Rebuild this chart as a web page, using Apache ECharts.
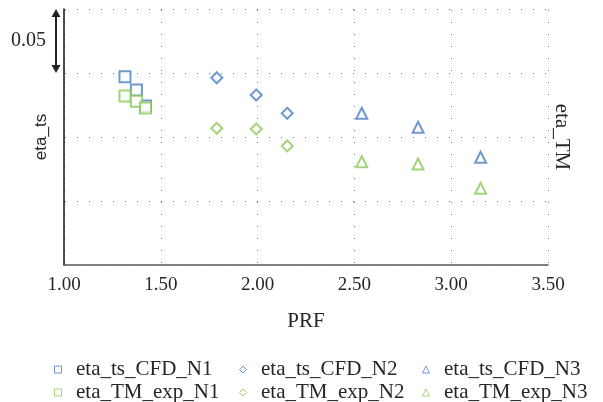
<!DOCTYPE html>
<html><head><meta charset="utf-8">
<script src="https://cdn.jsdelivr.net/npm/echarts@6/dist/echarts.min.js"></script>
<style>html,body{margin:0;padding:0;background:#fff}#c{width:603px;height:402px}</style>
</head><body><div id="c"></div>
<script>
// PRF (x) positions per family
const prfN1 = [1.315, 1.374, 1.421];
const prfN2 = [1.789, 1.993, 2.153];
const prfN3 = [2.538, 2.829, 3.152];
// efficiencies (relative scale, 0.05 per grid step)
const etaTsCfdN1 = [0.1470, 0.1367, 0.1242];
const etaTsCfdN2 = [0.1463, 0.1328, 0.1185];
const etaTsCfdN3 = [0.1185, 0.1076, 0.0841];
const etaTmExpN1 = [0.1320, 0.1280, 0.1227];
const etaTmExpN2 = [0.1068, 0.1063, 0.0930];
const etaTmExpN3 = [0.0807, 0.0789, 0.0599];
const xTicks = [1.0, 1.5, 2.0, 2.5, 3.0, 3.5];
const scaleStep = 0.05;
const scaleLabel = '0.05';

const BLUE = '#4a7ec4', GREEN = '#8cc95a';
const SERIF = '"Liberation Serif", "Times New Roman", serif';
const pts = (xs, ys) => xs.map((x, i) => [x, ys[i]]);
const mk = (name, xs, ys, sym, col) => ({
  name, type: 'scatter', data: pts(xs, ys), symbol: sym, symbolSize: 11,
  itemStyle: { color: col, borderWidth: 1.2 }, emphasis: { disabled: true }
});
const series = [
  mk('eta_ts_CFD_N1', prfN1, etaTsCfdN1, 'emptyRect', BLUE),
  mk('eta_ts_CFD_N2', prfN2, etaTsCfdN2, 'emptyDiamond', BLUE),
  mk('eta_ts_CFD_N3', prfN3, etaTsCfdN3, 'emptyTriangle', BLUE),
  mk('eta_TM_exp_N1', prfN1, etaTmExpN1, 'emptyRect', GREEN),
  mk('eta_TM_exp_N2', prfN2, etaTmExpN2, 'emptyDiamond', GREEN),
  mk('eta_TM_exp_N3', prfN3, etaTmExpN3, 'emptyTriangle', GREEN)
];
const ICON = {
  emptyRect: 'path://M0,0H10V10H0Z',
  emptyDiamond: 'path://M5,0L10,5L5,10L0,5Z',
  emptyTriangle: 'path://M5,0L10,10L0,10Z'
};
const colLeft = [49, 234, 417];
const rowTop = [354, 377];
const legends = series.map((s, i) => ({
  orient: 'horizontal', left: colLeft[i % 3], top: rowTop[Math.floor(i / 3)],
  itemWidth: 26, itemHeight: 7, selectedMode: false,
  textStyle: { fontFamily: SERIF, fontSize: 21, color: '#262626', lineHeight: 21 },
  data: [{ name: s.name, icon: ICON[s.symbol],
    itemStyle: { color: 'rgba(0,0,0,0)', borderColor: s.itemStyle.color, borderWidth: 1 } }]
}));
const dotted = { color: '#7a7a7a', width: 1, type: [1, 11], dashOffset: -1 };

const chart = echarts.init(document.getElementById('c'), null, { renderer: 'canvas' });
chart.setOption({
  animation: false,
  grid: { left: 64, right: 55, top: 9, bottom: 137, containLabel: false },
  xAxis: {
    type: 'value', min: xTicks[0], max: xTicks[xTicks.length - 1], interval: 0.5,
    name: 'PRF', nameLocation: 'middle', nameGap: 46, nameMoveOverlap: false,
    nameTextStyle: { fontFamily: SERIF, fontSize: 21, color: '#262626' },
    axisLine: { show: true, lineStyle: { color: '#5a5a5a', width: 1.5 } },
    axisTick: { show: false },
    axisLabel: { fontFamily: SERIF, fontSize: 19, color: '#262626', margin: 11,
      formatter: v => v.toFixed(2) },
    splitLine: { show: true, lineStyle: dotted }
  },
  yAxis: [{
    type: 'value', min: 0, max: 4 * scaleStep, interval: scaleStep,
    name: 'eta_ts', nameLocation: 'middle', nameGap: 14, nameRotate: 90, nameMoveOverlap: false,
    nameTextStyle: { fontFamily: '"Liberation Sans", Arial, sans-serif', fontSize: 17, color: '#262626' },
    axisLine: { show: true, lineStyle: { color: '#111', width: 1.5 } },
    axisTick: { show: false }, axisLabel: { show: false },
    splitLine: { show: true, lineStyle: dotted }
  }, {
    type: 'value', position: 'right', min: 0, max: 4 * scaleStep, interval: scaleStep,
    name: 'eta_TM', nameLocation: 'middle', nameGap: 3, nameRotate: -90, nameMoveOverlap: false,
    nameTextStyle: { fontFamily: SERIF, fontSize: 21, color: '#262626' },
    axisLine: { show: false }, axisTick: { show: false }, axisLabel: { show: false },
    splitLine: { show: false }
  }],
  legend: legends,
  series
});

// scale indicator (double arrow spanning one grid step)
const yTop = chart.convertToPixel({ yAxisIndex: 0 }, 4 * scaleStep);
const yBot = chart.convertToPixel({ yAxisIndex: 0 }, 3 * scaleStep);
const ax = 56, hw = 4.5, hh = 8;
chart.setOption({
  graphic: [
    { type: 'line', shape: { x1: ax, y1: yTop + hh - 1, x2: ax, y2: yBot - hh + 1 },
      style: { stroke: '#222', lineWidth: 2 } },
    { type: 'polygon', shape: { points: [[ax, yTop], [ax - hw, yTop + hh], [ax + hw, yTop + hh]] },
      style: { fill: '#222' } },
    { type: 'polygon', shape: { points: [[ax, yBot], [ax - hw, yBot - hh], [ax + hw, yBot - hh]] },
      style: { fill: '#222' } },
    { type: 'text', x: 46, y: (yTop + yBot) / 2,
      style: { text: scaleLabel, fontFamily: SERIF, fontSize: 20, fill: '#262626',
        align: 'right', verticalAlign: 'middle' } }
  ]
});
</script></body></html>
